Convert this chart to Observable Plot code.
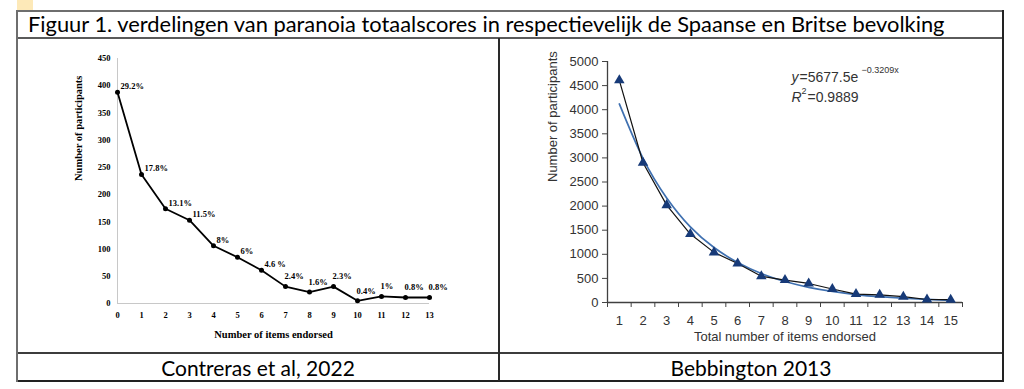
<!DOCTYPE html>
<html><head><meta charset="utf-8">
<script src="https://cdn.jsdelivr.net/npm/d3@7"></script>
<script src="https://cdn.jsdelivr.net/npm/@observablehq/plot@0.6"></script>
<style>
body{margin:0;background:#fff;width:1024px;height:389px;overflow:hidden;position:relative;font-family:Lato,"Open Sans",sans-serif}
.abs{position:absolute}
.hl{position:absolute;height:2px;background:#4a4a4a}
.vl{position:absolute;width:2px;background:#3a3a3a}
.cap{position:absolute;top:354px;height:27px;line-height:27px;text-align:center;font-size:21px;color:#000;white-space:nowrap}
</style></head><body>
<div class="abs" style="left:17px;top:0;width:16px;height:10px;background:#fde9b8"></div>
<div class="hl" style="left:17px;top:10px;width:987px;background:#6e6e6e"></div>
<div class="hl" style="left:17px;top:37px;width:987px;background:#5a5a5a"></div>
<div class="hl" style="left:17px;top:352px;width:987px;background:#3c3c3c"></div>
<div class="hl" style="left:17px;top:380px;width:987px;background:#222"></div>
<div class="vl" style="left:16px;top:10px;height:372px;background:#6e6e6e"></div>
<div class="vl" style="left:1002px;top:10px;height:372px;background:#222"></div>
<div class="vl" style="left:498px;top:38px;height:343px;background:#2a2a2a"></div>
<div id="title" class="abs" style="left:28px;top:11px;height:26px;line-height:26px;font-size:19.5px;white-space:nowrap;color:#000">Figuur 1. verdelingen van paranoia totaalscores in respectievelijk de Spaanse en Britse bevolking</div>
<div id="left" class="abs" style="left:18px;top:39px"></div>
<div id="right" class="abs" style="left:500px;top:39px"></div>
<div class="cap" style="left:18px;width:480px">Contreras et al, 2022</div>
<div class="cap" style="left:500px;width:502px">Bebbington 2013</div>
<script>
// ---- Left panel data (Contreras et al, 2022) ----
const leftItems = [0,1,2,3,4,5,6,7,8,9,10,11,12,13];
const leftCounts = [388,237,174,153,106,85,61,31,21,31,5,13,11,11];
const leftPct = ["29.2%","17.8%","13.1%","11.5%","8%","6%","4.6 %","2.4%","1.6%","2.3%","0.4%","1%","0.8%","0.8%"];
const leftYTicks = [0,50,100,150,200,250,300,350,400,450];

// ---- Right panel data (Bebbington 2013) ----
const rightItems = [1,2,3,4,5,6,7,8,9,10,11,12,13,14,15];
const rightCounts = [4610,2900,2020,1420,1040,810,545,465,395,280,175,160,120,62,58];
const rightFit = [4120,2990,2170,1570,1140,830,600,435,315,230,165,120,88,64,46];
const rightYTicks = [0,500,1000,1500,2000,2500,3000,3500,4000,4500,5000];

// fit title width like the reference
const t = document.getElementById("title");
const w = t.getBoundingClientRect().width;
t.style.fontSize = (19.5 * 917 / w) + "px";

const leftData = leftItems.map((x,i)=>({x, y:leftCounts[i], label:leftPct[i], i}));
const rightData = rightItems.map((x,i)=>({x, y:rightCounts[i], fit:rightFit[i]}));

const left = Plot.plot({
  width: 481, height: 314,
  marginLeft: 99, marginRight: 70, marginTop: 19, marginBottom: 50,
  style: {fontFamily: "'Liberation Serif','Times New Roman',serif", fontWeight: "bold", fontSize: "8.5px", color: "#000", background: "transparent", overflow: "visible"},
  x: {domain: [0,13], axis: null},
  y: {domain: [0,450], axis: null},
  marks: [
    Plot.ruleX([0], {stroke: "#c8c8c8", strokeWidth: 1}),
    Plot.ruleY([0], {stroke: "#c8c8c8", strokeWidth: 1}),
    Plot.axisX(leftItems, {tickSize: 0, tickPadding: 8, label: null, fontWeight: "bold"}),
    Plot.axisY(leftYTicks, {tickSize: 0, tickPadding: 7, label: null, fontWeight: "bold"}),
    Plot.text(["Number of items endorsed"], {frameAnchor: "bottom", dy: 34, fontSize: 10.5, fontWeight: "bold"}),
    Plot.text(["Number of participants"], {frameAnchor: "left", rotate: -90, dx: -39, fontSize: 10.5, fontWeight: "bold"}),
    Plot.line(leftData, {x: "x", y: "y", stroke: "#000", strokeWidth: 1.8}),
    Plot.dot(leftData, {x: "x", y: "y", r: 2.5, fill: "#000"}),
    Plot.text(leftData.filter(d => d.i < 7), {x: "x", y: "y", text: "label", textAnchor: "start", dx: 3, dy: -6, fontSize: 8.5}),
    Plot.text(leftData.filter(d => d.i >= 7), {x: "x", y: "y", text: "label", textAnchor: "start", dx: -1, dy: -10, fontSize: 8.5})
  ]
});
document.getElementById("left").appendChild(left);

const boundaries = rightItems.map(x => x - 0.5).concat([rightItems[rightItems.length-1] + 0.5]);
const right = Plot.plot({
  width: 503, height: 314,
  marginLeft: 107, marginRight: 41, marginTop: 22, marginBottom: 51,
  style: {fontFamily: "'Liberation Sans',Arial,sans-serif", fontSize: "13px", color: "#333", background: "transparent", overflow: "visible"},
  x: {domain: [0.5, 15.5], axis: null},
  y: {domain: [0, 5000], axis: null},
  marks: [
    Plot.axisY(rightYTicks, {tickSize: 5, tickPadding: 4, stroke: "#444", label: null, tickFormat: d3.format("d")}),
    Plot.axisX(boundaries, {tickSize: 5, tickFormat: () => "", stroke: "#444", label: null}),
    Plot.axisX(rightItems, {tickSize: 0, tickPadding: 13, label: null}),
    Plot.ruleY([0], {stroke: "#404040", strokeWidth: 1.3}),
    Plot.ruleX([0.5], {stroke: "#404040", strokeWidth: 1.3}),
    Plot.text(["Total number of items endorsed"], {frameAnchor: "bottom", dy: 38, fontSize: 13, fill: "#333"}),
    Plot.text(["Number of participants"], {frameAnchor: "left", rotate: -90, dx: -55, fontSize: 13, fill: "#333"}),
    Plot.line(rightData, {x: "x", y: "fit", stroke: "#3f70b0", strokeWidth: 1.7, curve: "natural"}),
    Plot.line(rightData, {x: "x", y: "y", stroke: "#111", strokeWidth: 1.2}),
    Plot.dot(rightData, {x: "x", y: "y", symbol: "triangle", r: 3.9, fill: "#173a78"}),
    Plot.text(["y"], {frameAnchor: "top-left", textAnchor: "start", dx: 184, dy: 11, fontSize: 14, fontStyle: "italic", fill: "#333"}),
    Plot.text(["=5677.5e"], {frameAnchor: "top-left", textAnchor: "start", dx: 192, dy: 11, fontSize: 14, fill: "#333"}),
    Plot.text(["\u22120.3209x"], {frameAnchor: "top-left", textAnchor: "start", dx: 254, dy: 5, fontSize: 9, fill: "#333"}),
    Plot.text(["R"], {frameAnchor: "top-left", textAnchor: "start", dx: 184, dy: 31, fontSize: 14, fontStyle: "italic", fill: "#333"}),
    Plot.text(["2"], {frameAnchor: "top-left", textAnchor: "start", dx: 194, dy: 26, fontSize: 9, fill: "#333"}),
    Plot.text(["=0.9889"], {frameAnchor: "top-left", textAnchor: "start", dx: 200, dy: 31, fontSize: 14, fill: "#333"})
  ]
});
document.getElementById("right").appendChild(right);
</script>
</body></html>
